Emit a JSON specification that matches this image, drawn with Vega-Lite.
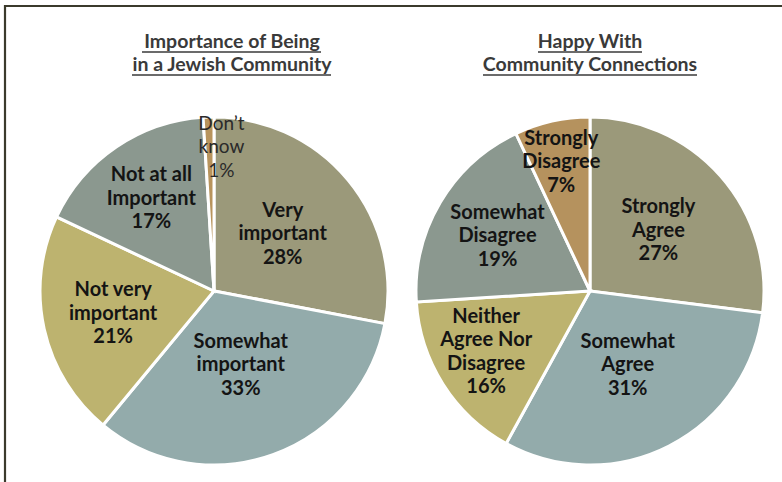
{
  "$schema": "https://vega.github.io/schema/vega-lite/v6.json",
  "autosize": {"type": "none"},
  "width": 780,
  "height": 479,
  "padding": {"left": 5, "top": 6, "right": -3, "bottom": -3},
  "background": "white",
  "config": {
    "view": {"stroke": "#3b3a2c", "strokeWidth": 2.2},
    "font": "Lato"
  },
  "datasets": {
    "slices": [
      {"chart": "A", "order": 1, "name": "Very important", "label": "Very\nimportant", "value": 28},
      {"chart": "A", "order": 2, "name": "Somewhat important", "label": "Somewhat\nimportant", "value": 33},
      {"chart": "A", "order": 3, "name": "Not very important", "label": "Not very\nimportant", "value": 21},
      {"chart": "A", "order": 4, "name": "Not at all Important", "label": "Not at all\nImportant", "value": 17},
      {"chart": "A", "order": 5, "name": "Don’t know", "label": "Don’t\nknow", "value": 1},
      {"chart": "B", "order": 1, "name": "Strongly Agree", "label": "Strongly\nAgree", "value": 27},
      {"chart": "B", "order": 2, "name": "Somewhat Agree", "label": "Somewhat\nAgree", "value": 31},
      {"chart": "B", "order": 3, "name": "Neither Agree Nor Disagree", "label": "Neither\nAgree Nor\nDisagree", "value": 16},
      {"chart": "B", "order": 4, "name": "Somewhat Disagree", "label": "Somewhat\nDisagree", "value": 19},
      {"chart": "B", "order": 5, "name": "Strongly Disagree", "label": "Strongly\nDisagree", "value": 7}
    ],
    "titles": [
      {"chart": "A", "title": "Importance of Being\nin a Jewish Community"},
      {"chart": "B", "title": "Happy With\nCommunity Connections"}
    ]
  },
  "layer": [
    {
      "data": {"name": "slices"},
      "transform": [
        {"stack": "value", "groupby": ["chart"], "sort": [{"field": "order", "order": "ascending"}], "as": ["start", "end"]}
      ],
      "mark": {"type": "arc", "outerRadius": 174, "stroke": "white", "strokeWidth": 3, "y": 285},
      "encoding": {
        "x": {"field": "chart", "type": "nominal", "scale": {"type": "point", "domain": ["A", "B"], "range": [209, 585], "padding": 0}, "axis": null},
        "theta": {"field": "start", "type": "quantitative", "scale": {"domain": [0, 100], "range": [0, 6.283185307]}},
        "theta2": {"field": "end"},
        "color": {
          "field": "name", "type": "nominal", "legend": null,
          "scale": {
            "domain": ["Very important", "Somewhat important", "Not very important", "Not at all Important", "Don’t know", "Strongly Agree", "Somewhat Agree", "Neither Agree Nor Disagree", "Somewhat Disagree", "Strongly Disagree"],
            "range": ["#9b997a", "#93abab", "#bdb36f", "#8b988f", "#b8945d", "#9b997a", "#93abab", "#bdb36f", "#8b988f", "#b5925e"]
          }
        }
      }
    },
    {
      "data": {"name": "slices"},
      "transform": [
        {"stack": "value", "groupby": ["chart"], "sort": [{"field": "order", "order": "ascending"}], "as": ["start", "end"]},
        {"calculate": "(datum.start + datum.end) / 2", "as": "mid"},
        {"calculate": "datum.label + '\\n' + datum.value + '%'", "as": "text"},
        {"filter": "datum.name !== 'Don’t know' && datum.name !== 'Neither Agree Nor Disagree'"}
      ],
      "mark": {"type": "text", "y": 285, "dy": -23.5, "lineBreak": "\n", "fontSize": 20, "fontWeight": "bold", "lineHeight": 23.5, "color": "#141414", "align": "center", "baseline": "middle"},
      "encoding": {
        "x": {"field": "chart", "type": "nominal", "axis": null},
        "theta": {"field": "mid", "type": "quantitative"},
        "radius": {"field": "value", "type": "quantitative", "scale": {"type": "linear", "domain": [1, 33], "range": [144, 79], "zero": false}},
        "text": {"field": "text", "type": "nominal"}
      }
    },
    {
      "data": {"name": "slices"},
      "transform": [
        {"stack": "value", "groupby": ["chart"], "sort": [{"field": "order", "order": "ascending"}], "as": ["start", "end"]},
        {"calculate": "(datum.start + datum.end) / 2", "as": "mid"},
        {"calculate": "datum.label + '\\n' + datum.value + '%'", "as": "text"},
        {"filter": "datum.name === 'Neither Agree Nor Disagree'"}
      ],
      "mark": {"type": "text", "y": 285, "dx": -8, "dy": -35, "lineBreak": "\n", "fontSize": 20, "fontWeight": "bold", "lineHeight": 23.5, "color": "#141414", "align": "center", "baseline": "middle"},
      "encoding": {
        "x": {"field": "chart", "type": "nominal", "axis": null},
        "theta": {"field": "mid", "type": "quantitative"},
        "radius": {"field": "value", "type": "quantitative"},
        "text": {"field": "text", "type": "nominal"}
      }
    },
    {
      "data": {"name": "slices"},
      "transform": [
        {"stack": "value", "groupby": ["chart"], "sort": [{"field": "order", "order": "ascending"}], "as": ["start", "end"]},
        {"calculate": "(datum.start + datum.end) / 2", "as": "mid"},
        {"calculate": "datum.label + '\\n' + datum.value + '%'", "as": "text"},
        {"filter": "datum.name === 'Don’t know'"}
      ],
      "mark": {"type": "text", "y": 285, "dx": 12, "dy": -23.5, "lineBreak": "\n", "fontSize": 19, "fontWeight": "normal", "lineHeight": 23.5, "color": "#2a2a2a", "align": "center", "baseline": "middle"},
      "encoding": {
        "x": {"field": "chart", "type": "nominal", "axis": null},
        "theta": {"field": "mid", "type": "quantitative"},
        "radius": {"field": "value", "type": "quantitative"},
        "text": {"field": "text", "type": "nominal"}
      }
    },
    {
      "data": {"name": "titles"},
      "transform": [{"filter": "datum.chart === 'A'"}],
      "mark": {"type": "text", "y": 36, "dx": 18, "lineBreak": "\n", "fontSize": 19.5, "fontWeight": "bold", "lineHeight": 23, "color": "#3a3a3a", "align": "center", "baseline": "middle"},
      "encoding": {
        "x": {"field": "chart", "type": "nominal", "axis": null},
        "text": {"field": "title", "type": "nominal"}
      }
    },
    {
      "data": {"name": "titles"},
      "transform": [{"filter": "datum.chart === 'B'"}],
      "mark": {"type": "text", "y": 36, "lineBreak": "\n", "fontSize": 19.5, "fontWeight": "bold", "lineHeight": 23, "color": "#3a3a3a", "align": "center", "baseline": "middle"},
      "encoding": {
        "x": {"field": "chart", "type": "nominal", "axis": null},
        "text": {"field": "title", "type": "nominal"}
      }
    },
    {
      "data": {"name": "titles"},
      "transform": [{"filter": "datum.chart === 'A'"}],
      "mark": {"type": "rule", "y": 46, "xOffset": -72, "x2Offset": 107, "color": "#3a3a3a", "strokeWidth": 1.5},
      "encoding": {"x": {"field": "chart", "type": "nominal", "axis": null}, "x2": {"field": "chart"}}
    },
    {
      "data": {"name": "titles"},
      "transform": [{"filter": "datum.chart === 'A'"}],
      "mark": {"type": "rule", "y": 69, "xOffset": -82, "x2Offset": 117, "color": "#3a3a3a", "strokeWidth": 1.5},
      "encoding": {"x": {"field": "chart", "type": "nominal", "axis": null}, "x2": {"field": "chart"}}
    },
    {
      "data": {"name": "titles"},
      "transform": [{"filter": "datum.chart === 'B'"}],
      "mark": {"type": "rule", "y": 46, "xOffset": -52, "x2Offset": 52, "color": "#3a3a3a", "strokeWidth": 1.5},
      "encoding": {"x": {"field": "chart", "type": "nominal", "axis": null}, "x2": {"field": "chart"}}
    },
    {
      "data": {"name": "titles"},
      "transform": [{"filter": "datum.chart === 'B'"}],
      "mark": {"type": "rule", "y": 69, "xOffset": -107, "x2Offset": 107, "color": "#3a3a3a", "strokeWidth": 1.5},
      "encoding": {"x": {"field": "chart", "type": "nominal", "axis": null}, "x2": {"field": "chart"}}
    }
  ]
}
